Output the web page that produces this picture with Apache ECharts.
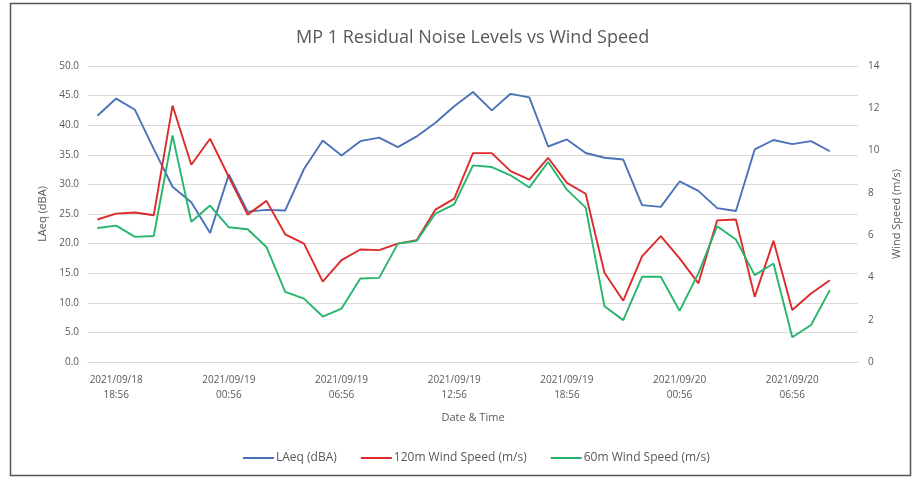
<!DOCTYPE html>
<html>
<head>
<meta charset="utf-8">
<script src="https://cdn.jsdelivr.net/npm/echarts@6/dist/echarts.min.js"></script>
<style>html,body{margin:0;padding:0;background:#fff}#c{width:913px;height:477px}</style>
</head>
<body>
<div id="c"></div>
<script>
var categories = [
 "2021/09/18\n17:56","2021/09/18\n18:56","2021/09/18\n19:56","2021/09/18\n20:56","2021/09/18\n21:56","2021/09/18\n22:56","2021/09/18\n23:56",
 "2021/09/19\n00:56","2021/09/19\n01:56","2021/09/19\n02:56","2021/09/19\n03:56","2021/09/19\n04:56","2021/09/19\n05:56",
 "2021/09/19\n06:56","2021/09/19\n07:56","2021/09/19\n08:56","2021/09/19\n09:56","2021/09/19\n10:56","2021/09/19\n11:56",
 "2021/09/19\n12:56","2021/09/19\n13:56","2021/09/19\n14:56","2021/09/19\n15:56","2021/09/19\n16:56","2021/09/19\n17:56",
 "2021/09/19\n18:56","2021/09/19\n19:56","2021/09/19\n20:56","2021/09/19\n21:56","2021/09/19\n22:56","2021/09/19\n23:56",
 "2021/09/20\n00:56","2021/09/20\n01:56","2021/09/20\n02:56","2021/09/20\n03:56","2021/09/20\n04:56","2021/09/20\n05:56",
 "2021/09/20\n06:56","2021/09/20\n07:56","2021/09/20\n08:56","2021/09/20\n09:56"
];
var laeq = [41.6,44.5,42.6,36.0,29.6,27.0,21.8,31.7,25.4,25.7,25.6,32.6,37.4,34.9,37.3,37.9,36.3,38.1,40.4,43.2,45.6,42.5,45.3,44.7,
 36.4,37.6,35.3,34.5,34.2,26.5,26.2,30.5,28.9,26.0,25.5,35.9,37.5,36.8,37.3,35.6];
var wind120 = [6.74,7.02,7.07,6.94,12.13,9.33,10.56,8.75,6.97,7.62,6.04,5.60,3.80,4.82,5.32,5.29,5.60,5.76,7.21,7.73,9.88,9.88,9.03,8.63,
 9.66,8.47,7.96,4.22,2.90,5.00,5.95,4.90,3.72,6.70,6.74,3.08,5.73,2.46,3.24,3.87];
var wind60 = [6.34,6.45,5.92,5.96,10.72,6.63,7.40,6.37,6.28,5.44,3.32,3.00,2.15,2.53,3.95,3.98,5.60,5.73,7.02,7.46,9.30,9.22,8.83,8.25,
 9.46,8.15,7.30,2.64,1.98,4.03,4.03,2.42,4.19,6.42,5.79,4.11,4.66,1.17,1.75,3.40];
var leftTicks = {min:0, max:50, interval:5};
var rightTicks = {min:0, max:14, interval:2};

var txt = '#595959';
var font = 'Open Sans';
var chart = echarts.init(document.getElementById('c'), null, {renderer:'canvas'});
chart.setOption({
  animation:false,
  backgroundColor:'#fff',
  title:{text:'MP 1 Residual Noise Levels vs Wind Speed', left:291, top:24,
    textStyle:{fontFamily:font, fontSize:18, fontWeight:'normal', color:txt}},
  grid:{left:88, right:55, top:66, bottom:115, containLabel:false},
  legend:{bottom:8, left:238, itemGap:24, itemWidth:31, itemHeight:2, icon:'rect',
    textStyle:{fontFamily:font, fontSize:12, color:txt, padding:[0,0,0,-3]}},
  xAxis:{type:'category', data:categories, boundaryGap:true,
    name:'Date & Time', nameLocation:'middle', nameGap:50,
    nameTextStyle:{fontFamily:font, fontSize:11, color:txt},
    axisLine:{lineStyle:{color:'#d9d9d9', width:1}}, axisTick:{show:false},
    axisLabel:{interval:function(i){return (i-1)%6===0;}, fontFamily:font, fontSize:10, color:txt, margin:11, lineHeight:15}},
  yAxis:[
    {type:'value', min:leftTicks.min, max:leftTicks.max, interval:leftTicks.interval,
      name:'LAeq (dBA)', nameLocation:'middle', nameGap:38,
      nameTextStyle:{fontFamily:font, fontSize:11, color:txt},
      axisLine:{show:false}, axisTick:{show:false},
      axisLabel:{formatter:function(v){return v.toFixed(1);}, fontFamily:font, fontSize:10, color:txt, margin:9},
      splitLine:{lineStyle:{color:'#d9d9d9', width:1}}},
    {type:'value', min:rightTicks.min, max:rightTicks.max, interval:rightTicks.interval,
      name:'Wind Speed (m/s)', nameLocation:'middle', nameGap:33, nameRotate:90,
      nameTextStyle:{fontFamily:font, fontSize:11, color:txt},
      axisLine:{show:false}, axisTick:{show:false},
      axisLabel:{fontFamily:font, fontSize:10, color:txt, margin:10},
      splitLine:{show:false}}
  ],
  series:[
    {name:'LAeq (dBA)', type:'line', data:laeq, yAxisIndex:0, symbol:'none',
      lineStyle:{color:'#4a72b8', width:1.9}, itemStyle:{color:'#4a72b8'}},
    {name:'120m Wind Speed (m/s)', type:'line', data:wind120, yAxisIndex:1, symbol:'none',
      lineStyle:{color:'#dd2a2a', width:1.9}, itemStyle:{color:'#dd2a2a'}},
    {name:'60m Wind Speed (m/s)', type:'line', data:wind60, yAxisIndex:1, symbol:'none',
      lineStyle:{color:'#27b46c', width:1.9}, itemStyle:{color:'#27b46c'}}
  ],
  graphic:[{type:'rect', shape:{x:10.5, y:3.5, width:900, height:472},
    style:{fill:null, stroke:'#555', lineWidth:1.5}, silent:true, z:-1}]
});
</script>
</body>
</html>
